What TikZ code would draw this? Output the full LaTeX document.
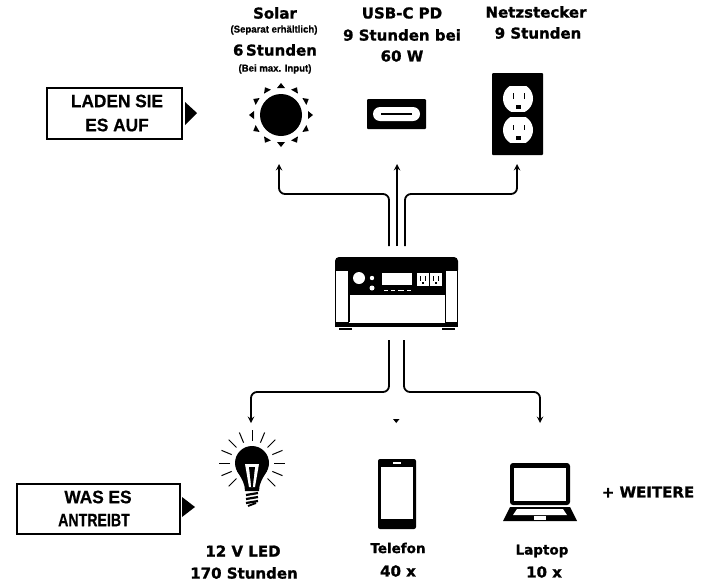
\documentclass[tikz,border=0pt]{standalone}
\usepackage{fontspec}
\setmainfont{DejaVu Sans}[BoldFeatures={FakeBold=1.2}]
\newfontfamily\narrowfont{Liberation Sans}[BoldFeatures={FakeBold=0.6,FakeStretch=0.96}]
\usetikzlibrary{positioning,calc}

\begin{document}
\begin{tikzpicture}[
	x=1pt,y=-1pt,
	every text node part/.style={align=center},
	lab/.style={inner sep=0,font=\bfseries\fontsize{15}{18}\selectfont},
	smalllab/.style={inner sep=0,font=\narrowfont\bfseries\fontsize{10}{11}\selectfont},
	devlab/.style={inner sep=0,font=\bfseries\fontsize{13.5}{16}\selectfont},
	headtxt/.style={inner sep=0,font=\narrowfont\bfseries\fontsize{18}{20}\selectfont},
	icon/.style={inner sep=0,minimum size=0},
	conn/.style={line width=1.8pt,rounded corners=6pt,-stealth},
]
\useasboundingbox (0,0) rectangle (707,582);

\node[icon,minimum width=135pt,minimum height=51pt,draw,line width=2pt] (chargebox) at (114,113) {};
\node[headtxt] (chargea) at (117,101) {LADEN SIE};
\node[headtxt] (chargeb) at (117,125) {ES AUF};
\fill (185,102) -- (197,113) -- (185,125) -- cycle;

\node[lab] (solar) at (275,13) {Solar};
\node[smalllab] (solarb) at (274,30) {(Separat erhältlich)};
\node[lab] (solarc) at (275,50) {6\,Stunden};
\node[smalllab] (solard) at (275,69) {(Bei max. Input)};
\node[lab] (usb) at (402,13) {USB-C PD};
\node[lab] (usbb) at (402,35) {9 Stunden bei};
\node[lab] (usbc) at (402,56) {60 W};
\node[lab] (wall) at (536,12) {Netzstecker};
\node[lab] (wallb) at (538,33) {9 Stunden};

\node[icon] (sun) at (281,115) {};
\fill (sun) circle (21);
\foreach \a in {0,30,...,330}
	\fill[shift={(sun)},rotate=\a] (27,-4) -- (32,0) -- (27,4) -- cycle;

\node[icon,minimum width=59pt,minimum height=30pt,fill=black,rounded corners=1pt] (usbport) at (396.5,114) {};
\fill[white,rounded corners=7pt] (373,107) rectangle (420,121);
\draw[line width=1.5pt] (381,114) -- (412,114);

\node[icon,minimum width=51pt,minimum height=82pt,fill=black,rounded corners=1pt] (plate) at (517.5,114) {};
\foreach \y in {98.5,130} {
	\begin{scope}
		\clip (500,\y-12.5) rectangle (536,\y+12.5);
		\fill[white] (518,\y) circle (15);
	\end{scope}
	\fill (512.5,\y-5.5) rectangle (514,\y);
	\fill (523.5,\y-5.5) rectangle (525,\y);
	\fill (516,\y+6) rectangle (520.5,\y+10);
}

\node[icon,minimum width=123pt,minimum height=70pt] (station) at (396.5,292) {};
\fill (335,270) [rounded corners=4pt] -- (335,257) -- (458,257) [sharp corners] -- (458,270) -- cycle;
\draw[line width=0.8pt] (335.5,270) rectangle (348,322);
\draw[line width=0.8pt] (445,270) rectangle (457.5,322);
\draw[line width=0.8pt,fill=white] (349,322) -- (349,266) -- (445,266) -- (445,322);
\fill (349.5,266.5) rectangle (444.5,295);
\fill (335,323) rectangle (458,327);
\fill (339,328) rectangle (352,330);
\fill (442,328) rectangle (455,330);
\fill[white] (359,278) circle (6);
\fill[white] (372,278) circle (2.2);
\fill[white] (372,288) circle (2.5);
\fill[white] (382,273) rectangle (412,285);
\foreach \xa/\xb in {384/388,391/395,398/404,407/411}
	\draw[white,line width=1pt] (\xa,290.5) -- (\xb,290.5);
\foreach \xa in {417,430} {
	\fill[white] (\xa,273) rectangle (\xa+12,286);
	\fill (\xa+3,276) rectangle (\xa+4,281);
	\fill (\xa+8,276) rectangle (\xa+9,281);
	\fill (\xa+5,282) rectangle (\xa+7,284);
}

\coordinate (rail) at (0,194);
\coordinate (ina) at (389,246);
\coordinate (inb) at (397,246);
\coordinate (inc) at (405,246);
\coordinate (tipa) at (279,164);
\coordinate (tipb) at (397,164);
\coordinate (tipc) at (517,164);
\draw[conn] (ina) -- (ina |- rail) -- (tipa |- rail) -- (tipa);
\draw[conn] (inb) -- (tipb);
\draw[conn] (inc) -- (inc |- rail) -- (tipc |- rail) -- (tipc);

\coordinate (railb) at (0,392);
\coordinate (outa) at (389,340);
\coordinate (outb) at (404,340);
\coordinate (tipd) at (251,423);
\coordinate (tipe) at (540,423);
\draw[conn] (outa) -- (outa |- railb) -- (tipd |- railb) -- (tipd);
\draw[conn] (outb) -- (outb |- railb) -- (tipe |- railb) -- (tipe);
\fill (393,419) -- (399.5,419) -- (396.25,423) -- cycle;

\node[icon] (bulb) at (252,463) {};
\fill (bulb) circle (17);
\fill (237,471) .. controls (242,479) and (245,484) .. (245,491) -- (259,491) .. controls (259,484) and (262,479) .. (267,471) -- cycle;
\foreach \y in {494,498,502}
	\draw[line width=2.2pt] (246,\y+1) -- (258,\y-1);
\draw[line width=1.8pt] (248,506) -- (256,503);
\fill[white] (245,464) -- (259,464) -- (255,487) -- (249,487) -- cycle;
\fill (249,467) -- (255,467) -- (252.8,487) -- (251.2,487) -- cycle;
\foreach \a in {-45,-22.5,...,225}
	\draw[line width=1pt,shift={(bulb)},rotate=\a] (22,0) -- (33,0);

\node[icon,minimum width=38pt,minimum height=70pt,fill=black,rounded corners=2pt] (phone) at (397,494) {};
\fill[white] (381,467) rectangle (413,519);
\draw[white,line width=1.2pt] (393,463) -- (401,463);

\node[icon,minimum width=60pt,minimum height=42pt,fill=black,rounded corners=3pt] (laptop) at (540,484) {};
\fill[white] (514,468) rectangle (566,501);
\fill (510,507) -- (570,507) -- (577,521) -- (503,521) -- cycle;
\fill[white] (517,509) -- (563,509) -- (567,515) -- (513,515) -- cycle;
\fill[white] (534,516) rectangle (546,520);

\node[icon,minimum width=163pt,minimum height=50pt,draw,line width=2pt] (usebox) at (98,508.5) {};
\node[headtxt] (usea) at (98,497) {WAS ES};
\node[headtxt,xscale=.82,transform shape] (useb) at (94,520) {ANTREIBT};
\fill (182,497) -- (195,507) -- (182,517) -- cycle;

\node[lab] (led) at (243,551) {12 V LED};
\node[lab] (ledb) at (244,573) {170 Stunden};
\node[devlab] (tel) at (398,548) {Telefon};
\node[lab] (telb) at (398,571) {40 x};
\node[devlab] (lap) at (542,551) {Laptop};
\node[lab] (lapb) at (544,572) {10 x};
\node[lab] (more) at (648,492) {+ WEITERE};
\end{tikzpicture}
\end{document}
